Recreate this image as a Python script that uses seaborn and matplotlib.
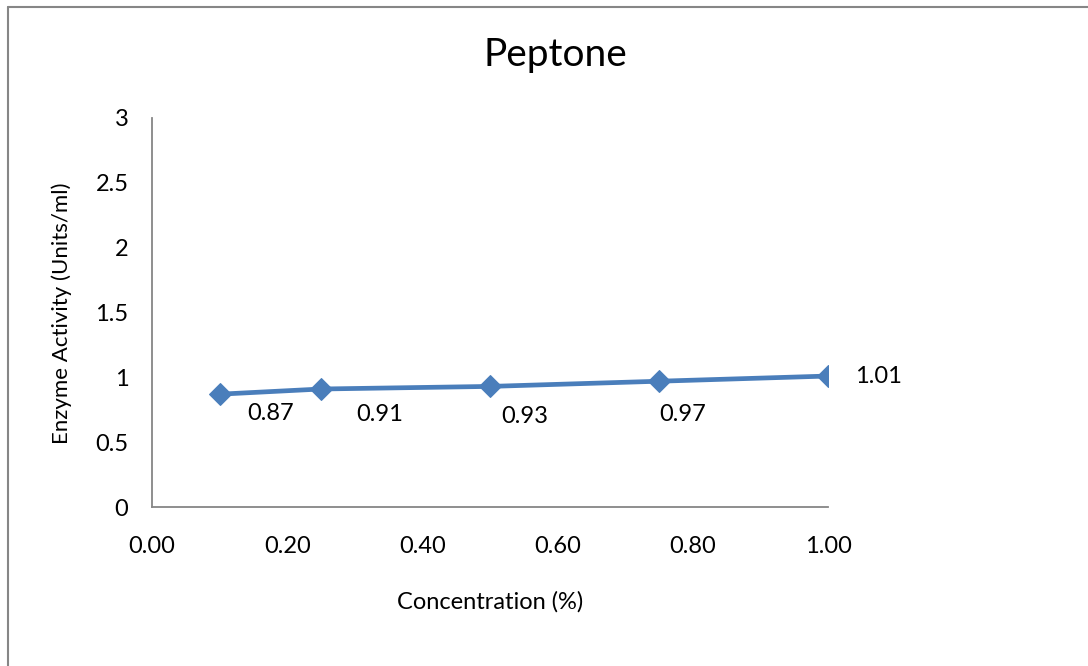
import matplotlib
matplotlib.use("Agg")
import matplotlib.pyplot as plt
from matplotlib.lines import Line2D
import seaborn as sns
import pandas as pd

concentration = [0.10, 0.25, 0.50, 0.75, 1.00]
activity = [0.87, 0.91, 0.93, 0.97, 1.01]
value_labels = ["0.87", "0.91", "0.93", "0.97", "1.01"]
x_ticks = [0.0, 0.2, 0.4, 0.6, 0.8, 1.0]
x_tick_labels = ["0.00", "0.20", "0.40", "0.60", "0.80", "1.00"]
y_ticks = [0, 0.5, 1, 1.5, 2, 2.5, 3]
y_tick_labels = ["0", "0.5", "1", "1.5", "2", "2.5", "3"]
title = "Peptone"
x_label = "Concentration (%)"
y_label = "Enzyme Activity (Units/ml)"

sns.set_theme(style="white")
plt.rcParams["font.family"] = ["Lato", "DejaVu Sans"]

W, H = 1088, 666
fig = plt.figure(figsize=(W / 100, H / 100), dpi=100)
fig.patch.set_facecolor("white")
ax = fig.add_axes([152 / W, 1 - 507 / H, (828 - 152) / W, (507 - 118) / H])

df = pd.DataFrame({"x": concentration, "y": activity})
sns.lineplot(data=df, x="x", y="y", ax=ax, color="#4A7EBB", linewidth=3.4,
             marker="D", markersize=11, markeredgecolor="#4A7EBB")

ax.set_xlim(0, 1.0)
ax.set_ylim(0, 3)
ax.set_xticks(x_ticks)
ax.set_xticklabels(x_tick_labels)
ax.set_yticks(y_ticks)
ax.set_yticklabels(y_tick_labels)
ax.tick_params(axis="both", length=0, labelsize=17, colors="#000000")
ax.tick_params(axis="x", pad=21)
ax.tick_params(axis="y", pad=17)
ax.set_xlabel("")
ax.set_ylabel("")

for side in ["top", "right"]:
    ax.spines[side].set_visible(False)
for side in ["left", "bottom"]:
    ax.spines[side].set_color("#868686")
    ax.spines[side].set_linewidth(1.3)

# data labels (positioned like the original)
offsets = [(37, -14), (42, -18), (25, -22), (17, -24), (36, 0)]
for xv, yv, lab, off in zip(concentration, activity, value_labels, offsets):
    ax.annotate(lab, (xv, yv), xytext=off, textcoords="offset points",
                ha="center", va="center", fontsize=17, color="#000000")

fig.text(555 / W, 1 - 55 / H, title, ha="center", va="center", fontsize=28, color="#000000")
fig.text(490 / W, 1 - 602 / H, x_label, ha="center", va="center", fontsize=17, color="#000000")
fig.text(62 / W, 1 - 313 / H, y_label, ha="center", va="center", rotation=90,
         fontsize=16, color="#000000")

# chart-area border (left and top edges visible)
fig.add_artist(Line2D([8 / W, 8 / W], [0, 1 - 7 / H], transform=fig.transFigure,
                      color="#868686", linewidth=1.5))
fig.add_artist(Line2D([8 / W, 1], [1 - 7 / H, 1 - 7 / H], transform=fig.transFigure,
                      color="#868686", linewidth=1.5))

fig.savefig("out.png", dpi=100)
